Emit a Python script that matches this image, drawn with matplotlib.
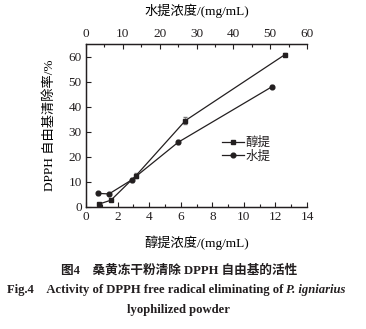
import matplotlib
matplotlib.use('Agg')
import matplotlib.pyplot as plt
from matplotlib.lines import Line2D
from matplotlib.ticker import MultipleLocator

# ethanol extract (bottom axis, squares)
eth_conc = [0.8, 1.58, 3.15, 6.3, 12.6]
eth_rate = [1.1, 2.7, 12.4, 34.5, 60.8]
eth_err = [0.3, 0.4, 1.0, 1.5, 0.5]

# water extract (top axis, circles)
wat_conc = [3.2, 6.25, 12.4, 25.0, 50.5]
wat_rate = [5.4, 5.2, 10.8, 25.8, 48.0]
wat_err = [0.5, 0.4, 0.8, 0.8, 0.5]

FONTS = ['Liberation Serif', 'Noto Sans CJK SC']
ink = '#231f20'
plt.rcParams['font.family'] = FONTS
plt.rcParams['font.size'] = 9.5
plt.rcParams['text.color'] = ink
plt.rcParams['axes.edgecolor'] = ink
plt.rcParams['xtick.color'] = ink
plt.rcParams['ytick.color'] = ink

fig = plt.figure(figsize=(3.66, 3.29), dpi=100)
ax = fig.add_axes([0.235, 0.371, 0.604, 0.495])
ax2 = ax.twiny()

ax.errorbar(eth_conc, eth_rate, yerr=eth_err, color=ink, lw=0.9, marker='s',
            ms=3.2, capsize=1.5, elinewidth=0.5, ecolor='#777777')
ax2.errorbar(wat_conc, wat_rate, yerr=wat_err, color=ink, lw=0.9, marker='o',
             ms=3.4, capsize=1.5, elinewidth=0.5, ecolor='#777777')

ax.set_xlim(0, 14)
ax2.set_xlim(0, 60)
ax.set_ylim(0, 65)
ax.xaxis.set_major_locator(MultipleLocator(2))
ax.xaxis.set_minor_locator(MultipleLocator(1))
ax2.xaxis.set_major_locator(MultipleLocator(10))
ax2.xaxis.set_minor_locator(MultipleLocator(5))
ax.yaxis.set_major_locator(MultipleLocator(10))

for a in (ax, ax2):
    a.spines['right'].set_visible(False)
    for s in a.spines.values():
        s.set_linewidth(0.9)
    a.tick_params(which='both', direction='in', width=0.8, pad=3)
    a.tick_params(which='major', length=3.5)
    a.tick_params(which='minor', length=2.5)

ax.set_xlabel('醇提浓度/(mg/mL)', labelpad=9, fontsize=9.5)
ax2.set_xlabel('水提浓度/(mg/mL)', labelpad=9, fontsize=9.5)
ax.set_ylabel('DPPH 自由基清除率/%', labelpad=9, fontsize=9.5)

h1 = Line2D([], [], color=ink, lw=0.9, marker='s', ms=3.2)
h2 = Line2D([], [], color=ink, lw=0.9, marker='o', ms=3.4)
ax2.legend([h1, h2], ['醇提', '水提'], loc='upper left', bbox_to_anchor=(0.615, 0.43),
           frameon=False, fontsize=9, handlelength=1.75, handletextpad=0.1,
           labelspacing=0.1, borderpad=0, borderaxespad=0)

cap = 9.1
fig.text(0.49, 1 - 270 / 329, '图4　桑黄冻干粉清除 DPPH 自由基的活性', ha='center', va='center',
         fontsize=cap, fontweight='bold')
t1 = fig.text(7 / 366, 1 - 290 / 329, 'Fig.4　Activity of DPPH free radical eliminating of ',
              ha='left', va='center', fontsize=cap, fontweight='bold')
fig.canvas.draw()
bb = t1.get_window_extent()
fig.text(bb.x1 / fig.bbox.width, 1 - 290 / 329, 'P. igniarius', ha='left', va='center',
         fontsize=cap, fontweight='bold', style='italic')
fig.text(0.487, 1 - 310 / 329, 'lyophilized powder', ha='center', va='center',
         fontsize=cap, fontweight='bold')

fig.savefig('out.png', dpi=100)
